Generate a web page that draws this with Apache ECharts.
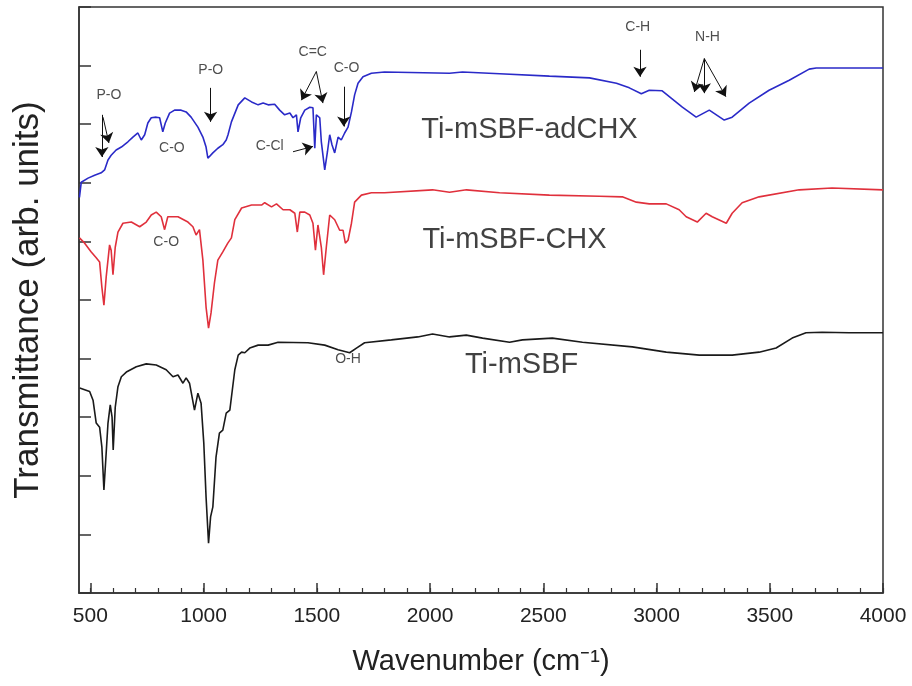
<!DOCTYPE html>
<html>
<head>
<meta charset="utf-8">
<script src="https://cdn.jsdelivr.net/npm/echarts@6/dist/echarts.min.js"></script>
<style>html,body{margin:0;padding:0;background:#fff}#c{width:912px;height:686px}</style>
</head>
<body>
<div id="c"></div>
<script>
// Ti-mSBF-adCHX (blue)
const adCHX = [[452,6.75],[460,7.01],[490,7.08],[519,7.13],[548,7.17],[563,7.22],[578,7.39],[592,7.47],[614,7.56],[637,7.61],[666,7.70],[688,7.78],[710,7.85],[725,7.73],[740,7.82],[754,8.02],[769,8.11],[791,8.12],[806,8.11],[820,7.87],[831,8.02],[850,8.19],[872,8.24],[901,8.24],[923,8.21],[945,8.12],[975,7.95],[997,7.78],[1011,7.61],[1019,7.42],[1041,7.51],[1063,7.59],[1085,7.65],[1100,7.73],[1108,7.82],[1123,8.04],[1153,8.33],[1182,8.45],[1212,8.38],[1241,8.33],[1263,8.36],[1285,8.33],[1314,8.34],[1336,8.24],[1358,8.16],[1381,8.19],[1395,8.11],[1410,8.16],[1417,7.87],[1429,8.11],[1447,8.24],[1469,8.29],[1483,8.28],[1491,7.59],[1498,8.16],[1513,8.11],[1520,7.70],[1535,7.22],[1547,7.53],[1557,7.82],[1567,7.65],[1579,7.51],[1594,7.78],[1608,7.73],[1623,7.85],[1638,7.95],[1653,8.21],[1667,8.50],[1682,8.70],[1704,8.81],[1741,8.87],[1799,8.89],[2086,8.87],[2143,8.89],[2307,8.86],[2527,8.82],[2704,8.79],[2823,8.70],[2880,8.62],[2933,8.52],[2968,8.58],[3025,8.57],[3114,8.29],[3175,8.12],[3233,8.24],[3299,8.07],[3334,8.12],[3409,8.36],[3497,8.58],[3586,8.75],[3674,8.94],[3705,8.96],[4000,8.96]];
// Ti-mSBF-CHX (red)
const CHX = [[452,6.06],[475,5.97],[504,5.82],[526,5.72],[541,5.65],[551,5.22],[560,4.91],[570,5.39],[585,5.94],[592,5.85],[600,5.43],[610,5.90],[622,6.16],[644,6.31],[681,6.33],[718,6.25],[747,6.33],[769,6.45],[791,6.50],[813,6.42],[828,6.20],[842,6.42],[887,6.42],[931,6.33],[953,6.25],[967,6.11],[982,6.20],[997,5.68],[1011,4.88],[1022,4.52],[1033,4.78],[1048,5.29],[1063,5.68],[1085,5.82],[1107,5.97],[1123,6.06],[1138,6.37],[1168,6.57],[1212,6.62],[1256,6.62],[1270,6.66],[1300,6.59],[1322,6.64],[1351,6.54],[1381,6.54],[1403,6.48],[1414,6.16],[1425,6.50],[1447,6.50],[1469,6.45],[1483,6.31],[1494,5.85],[1505,6.28],[1520,5.90],[1530,5.43],[1542,5.90],[1557,6.45],[1579,6.37],[1601,6.19],[1616,6.19],[1626,5.97],[1638,6.02],[1653,6.31],[1667,6.67],[1697,6.79],[1741,6.83],[1799,6.83],[2011,6.88],[2086,6.84],[2161,6.88],[2307,6.83],[2527,6.79],[2748,6.77],[2849,6.76],[2911,6.67],[2968,6.64],[3043,6.64],[3100,6.54],[3131,6.42],[3180,6.33],[3219,6.48],[3246,6.42],[3308,6.31],[3334,6.48],[3378,6.66],[3453,6.76],[3630,6.88],[3775,6.91],[4000,6.88]];
// Ti-mSBF (black)
const mSBF = [[453,3.50],[497,3.44],[512,3.29],[526,2.90],[541,2.83],[551,2.49],[560,1.76],[570,2.39],[578,2.90],[588,3.21],[596,3.00],[601,2.44],[610,3.17],[622,3.52],[637,3.69],[659,3.77],[703,3.86],[747,3.91],[791,3.89],[835,3.81],[865,3.69],[887,3.72],[909,3.58],[923,3.67],[938,3.58],[960,3.12],[975,3.41],[989,3.24],[1001,2.56],[1011,1.64],[1022,0.85],[1031,1.30],[1041,1.47],[1055,2.32],[1070,2.73],[1085,2.78],[1100,3.07],[1116,3.12],[1138,3.81],[1153,4.06],[1168,4.11],[1182,4.10],[1204,4.18],[1241,4.23],[1285,4.23],[1329,4.28],[1461,4.27],[1535,4.23],[1594,4.15],[1645,4.10],[1675,4.18],[1711,4.27],[1829,4.32],[1946,4.37],[2011,4.42],[2086,4.37],[2160,4.40],[2232,4.35],[2351,4.28],[2408,4.32],[2540,4.35],[2673,4.28],[2893,4.20],[3043,4.11],[3189,4.06],[3334,4.06],[3453,4.11],[3528,4.18],[3599,4.35],[3660,4.44],[3731,4.45],[3850,4.44],[4000,4.44]];

const xMajorTicks = [500,1000,1500,2000,2500,3000,3500,4000];
const xMinorTicks = [500,600,700,800,900,1000,1100,1200,1300,1400,1500,1600,1700,1800,1900,2000,2100,2200,2300,2400,2500,2600,2700,2800,2900,3000,3100,3200,3300,3400,3500,3600,3700,3800,3900,4000];

// sample names: [x, y, text]
const sampleLabels = [[2439,7.90,'Ti-mSBF-adCHX'],[2373,6.02,'Ti-mSBF-CHX'],[2404,3.89,'Ti-mSBF']];
// band annotations: [x, y, text]
const bandLabels = [[582,8.49,'P-O'],[860,7.59,'C-O'],[1032,8.92,'P-O'],[1482,9.23,'C=C'],[1631,8.95,'C-O'],[1292,7.62,'C-Cl'],[2917,9.66,'C-H'],[3225,9.48,'N-H'],[835,5.98,'C-O'],[1638,3.99,'O-H']];
// arrows: [xFrom, yFrom, xTo, yTo]
const arrows = [[551,8.16,551,7.44],[556,8.12,582,7.68],[1031,8.62,1031,8.04],[1498,8.90,1432,8.41],[1498,8.90,1527,8.36],[1619,8.64,1619,7.96],[1395,7.53,1483,7.62],[2927,9.27,2927,8.81],[3211,9.12,3167,8.55],[3211,9.12,3211,8.53],[3211,9.12,3306,8.47]];

const chart = echarts.init(document.getElementById('c'));
const axisCol = '#333';
const font = 'Liberation Sans, Arial, sans-serif';
chart.setOption({
  backgroundColor: '#fff',
  animation: false,
  grid: {left: 79, right: 29, top: 7, bottom: 93, show: true, borderColor: axisCol, borderWidth: 1.5, backgroundColor: 'transparent'},
  xAxis: [{
    type: 'value', min: 450, max: 4000,
    name: 'Wavenumber (cm⁻¹)', nameLocation: 'middle', nameGap: 54,
    nameTextStyle: {fontFamily: font, fontSize: 29, color: '#222'},
    axisLine: {show: true, lineStyle: {color: axisCol, width: 1.5}},
    axisTick: {show: true, inside: true, length: 10, customValues: xMajorTicks, lineStyle: {color: axisCol, width: 1.5}},
    axisLabel: {show: true, customValues: xMajorTicks, margin: 13, formatter: v => String(v), fontFamily: font, fontSize: 21, color: '#222'},
    splitLine: {show: false}
  }, {
    type: 'value', min: 450, max: 4000, position: 'bottom',
    axisLine: {show: false},
    axisTick: {show: true, inside: true, length: 5, customValues: xMinorTicks, lineStyle: {color: axisCol, width: 1.2}},
    axisLabel: {show: false},
    splitLine: {show: false}
  }],
  yAxis: {
    type: 'value', min: 0, max: 10, interval: 1,
    name: 'Transmittance (arb. units)', nameLocation: 'middle', nameGap: 33,
    nameTextStyle: {fontFamily: font, fontSize: 35, color: '#222'},
    axisLine: {show: true, lineStyle: {color: axisCol, width: 1.5}},
    axisTick: {show: true, inside: true, length: 12, lineStyle: {color: axisCol, width: 1.5}},
    axisLabel: {show: false},
    splitLine: {show: false}
  },
  series: [
    {type: 'line', name: 'Ti-mSBF-adCHX', data: adCHX, symbol: 'none', lineStyle: {color: '#2a2ac8', width: 1.6}, z: 3,
     markLine: {silent: true, symbol: ['none', 'triangle'], symbolSize: [6, 10], animation: false,
       lineStyle: {color: '#111', width: 1, type: 'solid'}, label: {show: false},
       data: arrows.map(a => [{coord: [a[0], a[1]], symbol: 'none'}, {coord: [a[2], a[3]], symbol: 'arrow', symbolSize: 10}])}},
    {type: 'line', name: 'Ti-mSBF-CHX', data: CHX, symbol: 'none', lineStyle: {color: '#e0303c', width: 1.6}, z: 3},
    {type: 'line', name: 'Ti-mSBF', data: mSBF, symbol: 'none', lineStyle: {color: '#1a1a1a', width: 1.6}, z: 3},
    {type: 'scatter', data: sampleLabels, symbolSize: 1, itemStyle: {color: 'rgba(0,0,0,0)'}, z: 5,
     label: {show: true, position: 'inside', formatter: p => p.value[2], fontFamily: font, fontSize: 29, color: '#111'}},
    {type: 'scatter', data: bandLabels, symbolSize: 1, itemStyle: {color: 'rgba(0,0,0,0)'}, z: 5,
     label: {show: true, position: 'inside', formatter: p => p.value[2], fontFamily: font, fontSize: 14, color: '#222'}}
  ]
});
</script>
</body>
</html>
